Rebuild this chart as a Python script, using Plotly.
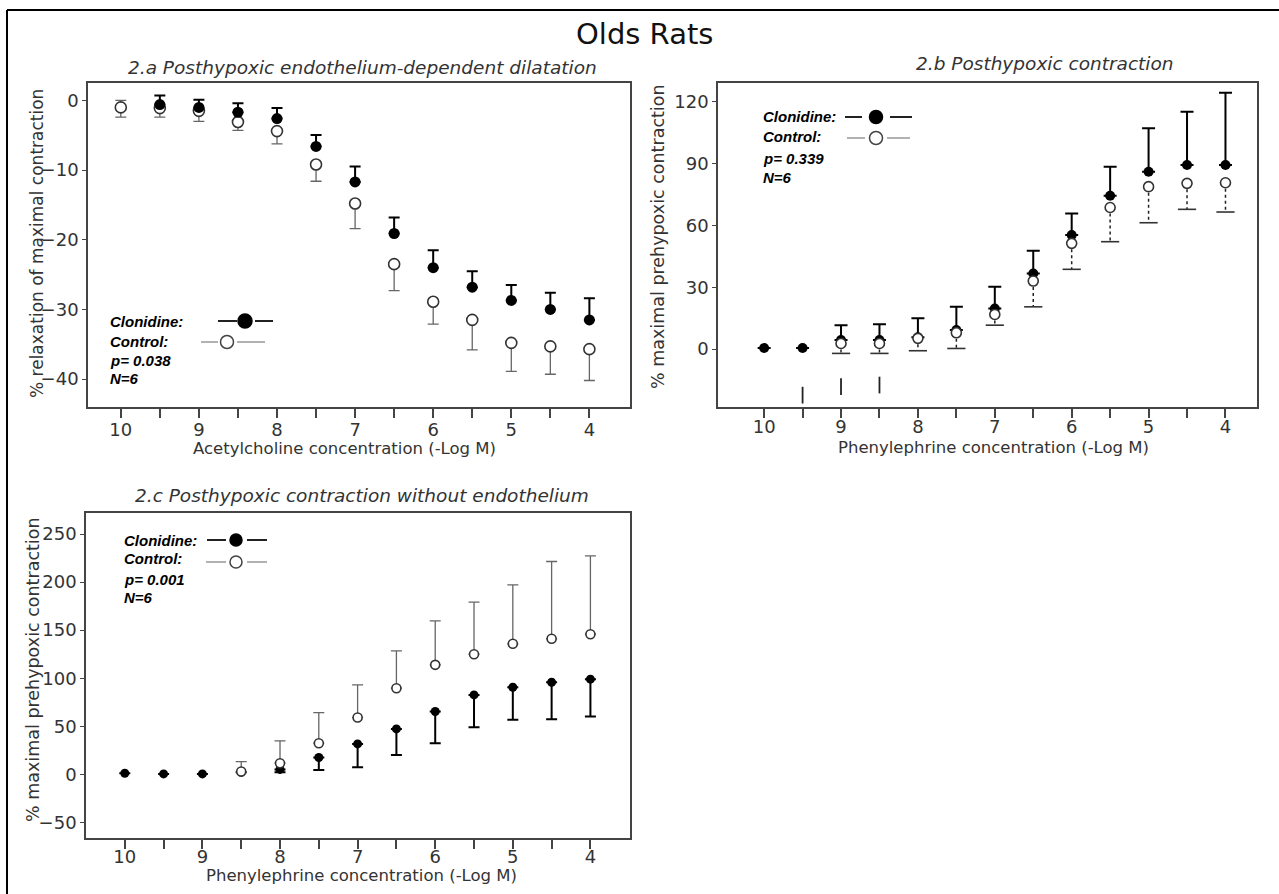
import plotly.graph_objects as go

W, H = 1279, 894

# ---------------- data ----------------
conc = [10, 9.5, 9, 8.5, 8, 7.5, 7, 6.5, 6, 5.5, 5, 4.5, 4]
x_ticktext = ["10", "", "9", "", "8", "", "7", "", "6", "", "5", "", "4"]

# 2.a  Acetylcholine, % relaxation
a_clon = [None, -0.6, -1.0, -1.7, -2.6, -6.6, -11.7, -19.1, -24.0, -26.8, -28.7, -30.0, -31.5]
a_clon_hi = [None, 0.7, 0.1, -0.4, -1.1, -4.95, -9.5, -16.8, -21.5, -24.5, -26.5, -27.6, -28.4]
a_ctrl = [-1.0, -1.1, -1.5, -3.1, -4.4, -9.2, -14.8, -23.5, -28.9, -31.5, -34.8, -35.3, -35.7]
a_ctrl_lo = [-2.4, -2.4, -3.0, -4.3, -6.25, -11.6, -18.4, -27.3, -32.1, -35.8, -38.9, -39.3, -40.2]
a_ctrl_hi = [0.0, None, None, None, None, None, None, None, None, None, None, None, None]
a_yticks = [0, -10, -20, -30, -40]

# 2.b  Phenylephrine, with endothelium
b_clon = [0.5, 0.5, 4.4, 4.4, 5.7, 9.2, 19.7, 36.7, 55.3, 74.4, 86.0, 89.3, 89.3]
b_clon_hi = [None, None, 11.6, 12.1, 14.9, 20.5, 30.2, 47.7, 65.8, 88.5, 107.1, 115.2, 124.4]
b_ctrl = [None, None, 2.7, 2.7, 5.2, 7.9, 16.8, 33.0, 51.3, 68.7, 78.8, 80.4, 80.7]
b_ctrl_lo = [None, None, -2.1, -2.1, -0.8, 0.3, 11.6, 20.5, 38.7, 52.1, 61.3, 67.8, 66.5]
b_stray_x = [9.5, 9, 8.5]
b_stray_lo = [-26.4, -22.3, -21.5]
b_stray_hi = [-18.3, -14.2, -13.4]
b_yticks = [0, 30, 60, 90, 120]

# 2.c  Phenylephrine, without endothelium
c_clon = [1.0, 0.3, 0.3, 2.0, 5.0, 17.4, 31.6, 47.2, 65.3, 82.6, 90.6, 95.8, 99.0]
c_clon_lo = [None, None, None, None, 2.0, 4.5, 7.3, 20.1, 32.3, 49.0, 56.6, 57.3, 60.1]
c_ctrl = [None, None, None, 2.8, 11.5, 32.3, 59.0, 89.6, 113.9, 125.0, 135.8, 141.0, 145.8]
c_ctrl_hi = [None, None, None, 13.2, 34.7, 64.2, 93.0, 128.5, 159.7, 179.2, 197.2, 221.5, 227.4]
c_yticks = [-50, 0, 50, 100, 150, 200, 250]

legend_a = ["Clonidine:", "Control:", "p= 0.038", "N=6"]
legend_b = ["Clonidine:", "Control:", "p= 0.339", "N=6"]
legend_c = ["Clonidine:", "Control:", "p= 0.001", "N=6"]

# ---------------- helpers ----------------
def px(x):
    return x / W

def py(y):
    return 1 - y / H

def up_err(vals, hi):
    return [(h - v) if (v is not None and h is not None) else (0 if v is not None else None)
            for v, h in zip(vals, hi)]

def down_err(vals, lo):
    return [(v - l) if (v is not None and l is not None) else (0 if v is not None else None)
            for v, l in zip(vals, lo)]

def segs(xs, a, b):
    X, Y = [], []
    for x, p, q in zip(xs, a, b):
        if p is None or q is None:
            continue
        X += [x, x, None]
        Y += [p, q, None]
    return X, Y

fig = go.Figure()

FILL = "black"
OPEN_LINE = "#333333"
ERR_OPEN = "#666666"

# ---- panel a ----
fig.add_trace(go.Scatter(
    x=conc, y=a_ctrl, mode="markers", xaxis="x", yaxis="y",
    marker=dict(symbol="circle", size=11, color="white", line=dict(color=OPEN_LINE, width=1.6)),
    error_y=dict(type="data", symmetric=False, array=up_err(a_ctrl, a_ctrl_hi),
                 arrayminus=down_err(a_ctrl, a_ctrl_lo), color=ERR_OPEN, thickness=1.3, width=5.5),
    showlegend=False, hoverinfo="skip"))
fig.add_trace(go.Scatter(
    x=conc, y=a_clon, mode="markers", xaxis="x", yaxis="y",
    marker=dict(symbol="circle", size=11, color=FILL),
    error_y=dict(type="data", symmetric=False, array=up_err(a_clon, a_clon_hi),
                 arrayminus=[0 if v is not None else None for v in a_clon],
                 color="black", thickness=2, width=5.5),
    showlegend=False, hoverinfo="skip"))

# ---- panel b ----
fig.add_trace(go.Scatter(
    x=conc, y=b_clon, mode="markers", xaxis="x2", yaxis="y2",
    marker=dict(symbol="circle", size=10, color=FILL),
    error_y=dict(type="data", symmetric=False, array=up_err(b_clon, b_clon_hi),
                 arrayminus=[0 if v is not None else None for v in b_clon],
                 color="black", thickness=2, width=6.5),
    showlegend=False, hoverinfo="skip"))
sx, sy = segs(conc, b_ctrl, b_ctrl_lo)
fig.add_trace(go.Scatter(
    x=sx, y=sy, mode="lines", xaxis="x2", yaxis="y2",
    line=dict(color="#222222", width=1.5, dash="dot"),
    showlegend=False, hoverinfo="skip"))
fig.add_trace(go.Scatter(
    x=conc, y=b_ctrl_lo, mode="markers", xaxis="x2", yaxis="y2",
    marker=dict(symbol="line-ew", size=13, line=dict(color="#333333", width=1.6)),
    showlegend=False, hoverinfo="skip"))
fig.add_trace(go.Scatter(
    x=conc, y=b_ctrl, mode="markers", xaxis="x2", yaxis="y2",
    marker=dict(symbol="circle", size=10, color="white", line=dict(color=OPEN_LINE, width=1.6)),
    showlegend=False, hoverinfo="skip"))
tx, ty = segs(b_stray_x, b_stray_lo, b_stray_hi)
fig.add_trace(go.Scatter(
    x=tx, y=ty, mode="lines", xaxis="x2", yaxis="y2",
    line=dict(color="#222222", width=1.8),
    showlegend=False, hoverinfo="skip"))

# ---- panel c ----
fig.add_trace(go.Scatter(
    x=conc, y=c_clon, mode="markers", xaxis="x3", yaxis="y3",
    marker=dict(symbol="circle", size=9, color=FILL),
    error_y=dict(type="data", symmetric=False,
                 array=[0 if v is not None else None for v in c_clon],
                 arrayminus=down_err(c_clon, c_clon_lo),
                 color="black", thickness=2, width=5.5),
    showlegend=False, hoverinfo="skip"))
fig.add_trace(go.Scatter(
    x=conc, y=c_ctrl, mode="markers", xaxis="x3", yaxis="y3",
    marker=dict(symbol="circle", size=9, color="white", line=dict(color=OPEN_LINE, width=1.6)),
    error_y=dict(type="data", symmetric=False, array=up_err(c_ctrl, c_ctrl_hi),
                 arrayminus=[0 if v is not None else None for v in c_ctrl],
                 color=ERR_OPEN, thickness=1.3, width=5.5),
    showlegend=False, hoverinfo="skip"))

# ---------------- axes ----------------
TICKFONT = dict(family="DejaVu Sans", size=18, color="#333333")

def xaxis(dom, rng, anchor, standoff):
    return dict(domain=dom, range=rng, anchor=anchor, tickmode="array", tickvals=conc,
                ticktext=x_ticktext, ticks="outside", ticklen=9, tickwidth=1.5, tickcolor="#444",
                showline=True, linecolor="#444", linewidth=1.6, mirror=True,
                showgrid=False, zeroline=False, tickfont=TICKFONT, ticklabelstandoff=standoff)

def yaxis(dom, rng, anchor, tv):
    return dict(domain=dom, range=rng, anchor=anchor, tickmode="array", tickvals=tv,
                ticks="outside", ticklen=4, tickwidth=1.2, tickcolor="#444",
                showline=True, linecolor="#444", linewidth=1.6, mirror=True,
                showgrid=False, zeroline=False, tickfont=TICKFONT)

fig.update_layout(
    width=W, height=H, margin=dict(l=0, r=0, t=0, b=0, pad=0),
    paper_bgcolor="white", plot_bgcolor="white",
    xaxis=xaxis([px(88), px(630)], [10.42, 3.48], "y", -3),
    yaxis=yaxis([py(407), py(83)], [-44, 2.5], "x", a_yticks),
    xaxis2=xaxis([px(718), px(1257)], [10.6, 3.59], "y2", -6),
    yaxis2=yaxis([py(407), py(83)], [-28.1, 129.1], "x2", b_yticks),
    xaxis3=xaxis([px(86), px(630)], [10.5, 3.49], "y3", -7),
    yaxis3=yaxis([py(838), py(513)], [-66.4, 272], "x3", c_yticks),
)

# ---------------- text ----------------
ann = []
def text(x, y, s, size, angle=0, italic=False, bold=False, color="#222222", family="DejaVu Sans",
         xanchor="center"):
    t = s
    if bold:
        t = "<b>" + t + "</b>"
    if italic:
        t = "<i>" + t + "</i>"
    ann.append(dict(x=px(x), y=py(y), xref="paper", yref="paper", text=t, showarrow=False,
                    xanchor=xanchor, yanchor="middle", textangle=angle,
                    font=dict(family=family, size=size, color=color)))

text(644, 34, "Olds Rats", 29, color="#111111")
text(362, 67, "2.a Posthypoxic endothelium-dependent dilatation", 18.5, italic=True, color="#333333")
text(1045, 64, "2.b Posthypoxic contraction", 18.5, italic=True, color="#333333")
text(362, 495, "2.c Posthypoxic contraction without endothelium", 18.5, italic=True, color="#333333")

text(37, 244, "% relaxation of maximal contraction", 17, angle=-90, color="#333333")
text(658, 237, "% maximal prehypoxic contraction", 17.5, angle=-90, color="#333333")
text(33, 670, "% maximal prehypoxic contraction", 17.5, angle=-90, color="#333333")

text(344, 448, "Acetylcholine concentration (-Log M)", 16.5, color="#333333")
text(993, 447, "Phenylephrine concentration (-Log M)", 16.5, color="#333333")
text(361, 875, "Phenylephrine concentration (-Log M)", 16.5, color="#333333")

def legend_text(x0, ys, labels):
    for yy, s in zip(ys, labels):
        text(x0, yy, s, 15, italic=True, bold=True, color="black", xanchor="left",
             family="Liberation Sans")

legend_text(108, [321, 341, 360, 379], legend_a)
legend_text(761, [117, 137, 158, 177], legend_b)
legend_text(122, [540, 558, 579, 597], legend_c)

fig.update_layout(annotations=ann)

# ---------------- legend glyphs & frame ----------------
shapes = []
def hline(x0, x1, y, color, width):
    shapes.append(dict(type="line", xref="paper", yref="paper", x0=px(x0), x1=px(x1),
                       y0=py(y), y1=py(y), line=dict(color=color, width=width)))

def dot(cx, cy, d, filled):
    shapes.append(dict(type="circle", xref="paper", yref="paper", xsizemode="pixel",
                       ysizemode="pixel", xanchor=px(cx), yanchor=py(cy),
                       x0=-d / 2, x1=d / 2, y0=-d / 2, y1=d / 2,
                       fillcolor="black" if filled else "white",
                       line=dict(color="black" if filled else "#444", width=1.5)))

def glyph(cx, cy, l0, l1, r0, r1, d, filled):
    col = "#222" if filled else "#999"
    w = 2 if filled else 1.5
    hline(l0, l1, cy, col, w)
    hline(r0, r1, cy, col, w)
    dot(cx, cy, d, filled)

glyph(245, 321, 218, 237, 255, 273, 14, True)
glyph(227, 342, 201, 218, 237, 265, 13, False)
glyph(876, 117, 845, 862, 890, 912, 13, True)
glyph(876, 138, 847, 865, 887, 910, 13, False)
glyph(236, 540, 207, 226, 247, 267, 12, True)
glyph(236, 562, 206, 226, 247, 267, 12, False)

shapes.append(dict(type="line", xref="paper", yref="paper", x0=px(7), x1=1, y0=py(10), y1=py(10),
                   line=dict(color="black", width=2)))
shapes.append(dict(type="line", xref="paper", yref="paper", x0=px(7), x1=px(7), y0=py(10), y1=0,
                   line=dict(color="black", width=2)))
fig.update_layout(shapes=shapes)

fig.write_html("out.html", config={"displayModeBar": False},
               post_script="document.body.style.margin='0';document.body.style.overflow='hidden';")
